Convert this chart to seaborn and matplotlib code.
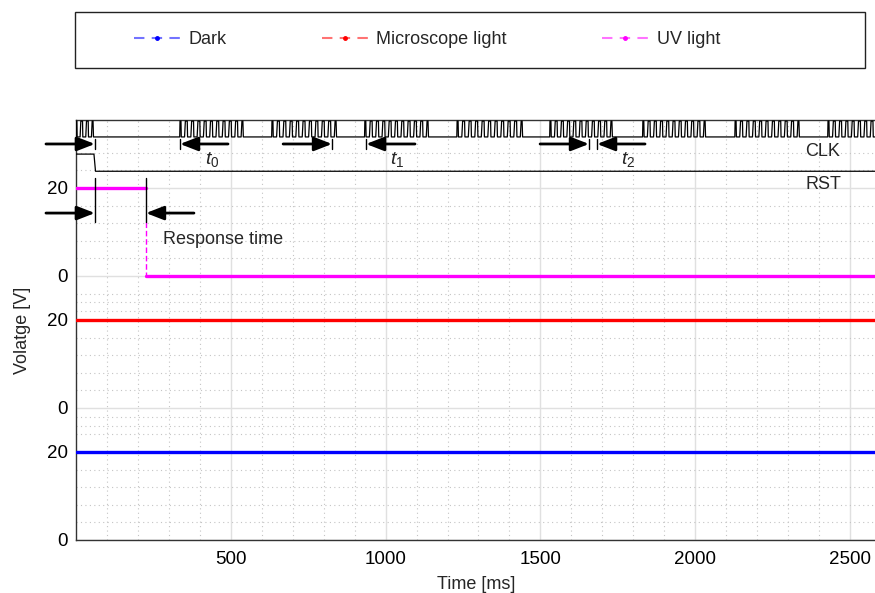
import matplotlib
matplotlib.use('Agg')
import matplotlib.pyplot as plt
import seaborn as sns
import numpy as np
import pandas as pd
from matplotlib.lines import Line2D
from matplotlib.patches import Rectangle

# ---------------- data ----------------
series_names = ['Dark', 'Microscope light', 'UV light']
series_colors = ['#0000ff', '#ff0000', '#ff00ff']

dark_t = [0, 2584]
dark_v = [20, 20]
micro_t = [0, 2584]
micro_v = [20, 20]
uv_t = [0, 226, 226, 2584]
uv_v = [20, 20, 0, 0]

clk_burst_start = [0, 336, 633, 933, 1231, 1531, 1831, 2129, 2429]
clk_burst_end = [55, 539, 840, 1137, 1441, 1731, 2032, 2335, 2632]
clk_pulses = [3, 10, 10, 10, 10, 10, 10, 10, 10]

rst_t = [0, 58, 63, 2584]
rst_v = [1, 1, 0, 0]

y_tick_labels = ['0', '20', '0', '20', '0', '20']
x_ticks = [500, 1000, 1500, 2000, 2500]

# interval annotations (tail, tip) in ms
interval_arrows = [(-97, 61), (491, 336), (669, 827), (1095, 937), (1499, 1657), (1838, 1683)]
interval_labels = [r'$t_0$', r'$t_1$', r'$t_2$']
interval_label_t = [439, 1037, 1783]
response_arrows = [(-97, 61), (381, 226)]

# ---------------- layout ----------------
panel_base = {'Dark': 0, 'Microscope light': 30, 'UV light': 60}
clk_lo, clk_hi = 91.6, 95.2
rst_lo, rst_hi = 83.8, 87.7
XMAX = 2584
YMAX = 95.45

sns.set_theme(style='white')
plt.rcParams['font.family'] = ['Liberation Sans', 'DejaVu Sans']
plt.rcParams['mathtext.fontset'] = 'custom'
plt.rcParams['mathtext.rm'] = 'Liberation Sans'
plt.rcParams['mathtext.it'] = 'Liberation Sans:italic'

fig = plt.figure(figsize=(8.75, 5.93), dpi=100)
ax = fig.add_axes([76 / 875, 1 - 540 / 593, 800 / 875, 420 / 593])

# grid
major_y = [0, 20, 30, 50, 60, 80]
minor_y = [4, 8, 12, 16, 24, 26, 28, 34, 38, 42, 46, 52, 54, 56, 64, 68, 72, 76, 84, 88]
for x in range(100, XMAX, 100):
    if x % 500 == 0:
        ax.axvline(x, color='#e0e0e0', lw=1.0, zorder=0)
    else:
        ax.axvline(x, color='#c4c4c4', lw=0.8, ls=(0, (1, 3)), zorder=0)
for y in minor_y:
    ax.axhline(y, color='#c4c4c4', lw=0.8, ls=(0, (1, 3)), zorder=0)
for y in major_y:
    ax.axhline(y, color='#e0e0e0', lw=1.0, zorder=0)

# signals
def draw_series(t, v, base, color):
    for i in range(len(t) - 1):
        xs = [t[i], t[i + 1]]
        ys = [v[i] + base, v[i + 1] + base]
        if t[i] == t[i + 1]:
            sns.lineplot(x=xs, y=[ys[0] - 7.7, ys[1]], ax=ax, color=color, lw=1.0,
                         ls=(0, (4, 2)), estimator=None, sort=False, zorder=3)
        else:
            sns.lineplot(x=xs, y=ys, ax=ax, color=color, lw=2.4,
                         estimator=None, sort=False, zorder=3)

draw_series(dark_t, dark_v, panel_base['Dark'], series_colors[0])
draw_series(micro_t, micro_v, panel_base['Microscope light'], series_colors[1])
draw_series(uv_t, uv_v, panel_base['UV light'], series_colors[2])

# clock waveform
ct, cv = [], []
for s, e, n in zip(clk_burst_start, clk_burst_end, clk_pulses):
    p = (e - s) / n
    ct += [s - 1, s]
    cv += [clk_lo, clk_hi]
    for k in range(n):
        b = s + k * p
        ct += [b + 0.15 * p, b + 0.2 * p, b + 0.72 * p, b + 0.85 * p, b + p]
        cv += [clk_hi, clk_lo, clk_lo, clk_hi, clk_hi]
    ct += [e + 1.5]
    cv += [clk_lo]
ct = [0] + ct[1:]
ct.append(XMAX + 50)
cv.append(clk_lo)
clk_df = pd.DataFrame({'t': ct, 'v': cv})
sns.lineplot(data=clk_df, x='t', y='v', ax=ax, color='black', lw=0.9,
             estimator=None, sort=False, zorder=4)

rst_df = pd.DataFrame({'t': rst_t, 'v': [rst_lo + (rst_hi - rst_lo) * r for r in rst_v]})
sns.lineplot(data=rst_df, x='t', y='v', ax=ax, color='black', lw=0.9,
             estimator=None, sort=False, zorder=4)

# arrows
def arrow(tail, tip, y, bar):
    ax.annotate('', xy=(tip, y), xytext=(tail, y), annotation_clip=False,
                arrowprops=dict(arrowstyle='-|>,head_length=0.9,head_width=0.35',
                                color='black', lw=2.0, mutation_scale=12,
                                shrinkA=0, shrinkB=0), zorder=6)
    ax.plot([tip, tip], bar, color='black', lw=1.0, zorder=6, clip_on=False)

for tail, tip in interval_arrows:
    arrow(tail, tip, 90.0, [88.8, 91.2])
for lab, t in zip(interval_labels, interval_label_t):
    ax.text(t, 86.4, lab, fontsize=14, ha='center', va='center', zorder=6)

for tail, tip in response_arrows:
    arrow(tail, tip, 74.3, [72.3, 82.3])
ax.text(281, 68.2, 'Response time', fontsize=13, ha='left', va='center', zorder=6)

ax.text(2413, 88.2, 'CLK', fontsize=13, ha='center', va='center', zorder=6)
ax.text(2413, 80.7, 'RST', fontsize=13, ha='center', va='center', zorder=6)

# axes
ax.set_xlim(0, XMAX)
ax.set_ylim(0, YMAX)
ax.set_xticks(x_ticks)
ax.set_xticklabels([str(x) for x in x_ticks])
ax.set_yticks(major_y)
ax.set_yticklabels(y_tick_labels)
ax.tick_params(axis='both', direction='in', length=6, width=1.0, color='#333333',
               labelsize=13.5, labelcolor='black')
ax.tick_params(axis='x', pad=8)
ax.tick_params(axis='y', pad=6)
ax.set_xlabel('Time [ms]', fontsize=13, labelpad=6)
ax.set_ylabel('Volatge [V]', fontsize=13, labelpad=11)
for sp in ['left', 'bottom', 'top', 'right']:
    ax.spines[sp].set_visible(True)
    ax.spines[sp].set_color('#333333')
    ax.spines[sp].set_linewidth(1.0)

# legend
fig.patches.append(Rectangle((75 / 875, 1 - 68 / 593), 790 / 875, 56 / 593,
                             transform=fig.transFigure, fill=False,
                             edgecolor='#222222', lw=1.0))
handles = []
for c in series_colors:
    rgba = matplotlib.colors.to_rgba(c, 0.55)
    handles.append(Line2D([], [], color=rgba, ls=(0, (5, 3.5)), lw=1.5, marker='.',
                          markersize=5, markerfacecolor=c, markeredgecolor=c))
fig.legend(handles, series_names, loc='center left',
           bbox_to_anchor=(134 / 875, 1 - 40 / 593), ncol=3, frameon=False,
           handlelength=2.55, handletextpad=0.45, columnspacing=5.3,
           borderpad=0, borderaxespad=0, fontsize=13)

fig.savefig('out.png', dpi=100)
